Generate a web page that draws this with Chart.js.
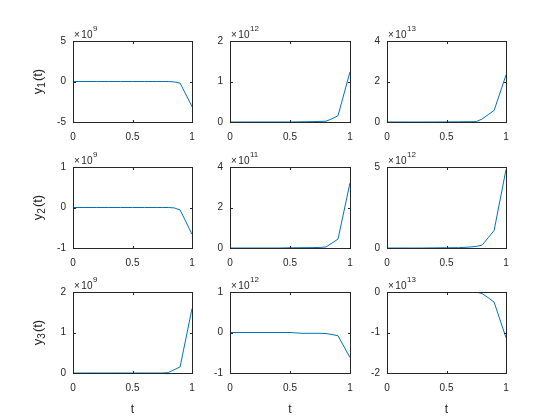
<!DOCTYPE html>
<html>
<head>
<meta charset="utf-8">
<script src="https://cdn.jsdelivr.net/npm/chart.js@4.4.1/dist/chart.umd.min.js"></script>
<style>
  html, body { margin: 0; background: #fff; }
  #fig { position: relative; width: 560px; height: 420px; }
  #fig canvas { position: absolute; left: 0; top: 0; }
</style>
</head>
<body>
<div id="fig"></div>
<script>
// 3x3 subplot grid (MATLAB look): y_i(t) per row, one case per column.
// values are stored scaled by the ×10^n factor shown above each panel.
const T = [0, 0.1, 0.2, 0.3, 0.4, 0.5, 0.6, 0.7, 0.75, 0.8, 0.85, 0.9, 1];

const Y1A = [0, 0, 0, 0, 0, 0, 0, 0, 0, 0, -0.05, -0.2, -3.1];
const Y1B = [0, 0, 0, 0, 0, 0, 0.005, 0.01, 0.015, 0.02, 0.08, 0.155, 1.24];
const Y1C = [0, 0, 0, 0, 0, 0.005, 0.01, 0.015, 0.02, 0.15, 0.36, 0.57, 2.32];
const Y2A = [0, 0, 0, 0, 0, 0, 0, 0, 0, 0, -0.01, -0.06, -0.66];
const Y2B = [0, 0, 0, 0, 0, 0.01, 0.015, 0.02, 0.03, 0.05, 0.245, 0.44, 3.22];
const Y2C = [0, 0, 0, 0, 0.01, 0.015, 0.02, 0.06, 0.1, 0.18, 0.63, 1.08, 4.84];
const Y3A = [0, 0, 0, 0, 0, 0, 0, 0, 0, 0.01, 0.08, 0.15, 1.59];
const Y3B = [0, 0, 0, 0, 0, 0, -0.02, -0.02, -0.02, -0.025, -0.05, -0.08, -0.62];
const Y3C = [0, 0, 0, 0, 0, 0, 0, 0, 0, -0.04, -0.14, -0.25, -1.13];

const SERIES = [[Y1A, Y1B, Y1C], [Y2A, Y2B, Y2C], [Y3A, Y3B, Y3C]];
const EXPONENTS = [[9, 12, 13], [9, 11, 12], [9, 12, 13]];
const Y_MIN  = [[-5, 0, 0], [-1, 0, 0], [0, -1, -2]];
const Y_MAX  = [[5, 2, 4], [1, 4, 5], [2, 1, 0]];
const Y_STEP = [[5, 1, 2], [1, 2, 5], [1, 1, 1]];
const X_TICKS = [0, 0.5, 1];
const ROW_SUBSCRIPTS = ["1", "2", "3"];
const X_LABEL = "t";

// subplot boxes in figure pixels
const COL_L = [73, 230, 387], COL_R = [192, 350, 506];
const ROW_T = [41, 167, 292], ROW_B = [122, 248, 373];
const YW = 30, XH = 25;

const INK = "#262626";
const BLUE = "#0072bd";
const FAMILY = "'Liberation Sans', Arial, sans-serif";

Chart.defaults.font.family = FAMILY;
Chart.defaults.font.size = 10;
Chart.defaults.color = INK;

// box, inward ticks on all four sides, ×10^n factor, axis labels
const matlabAxes = {
  id: "matlabAxes",
  afterDraw(chart, args, o) {
    const ctx = chart.ctx, a = chart.chartArea;
    const sx = chart.scales.x, sy = chart.scales.y;
    ctx.save();
    ctx.strokeStyle = INK;
    ctx.lineWidth = 1;
    ctx.strokeRect(a.left + 0.5, a.top + 0.5, a.right - a.left, a.bottom - a.top);
    ctx.beginPath();
    for (const t of sx.ticks) {
      const px = Math.round(sx.getPixelForValue(t.value)) + 0.5;
      ctx.moveTo(px, a.bottom); ctx.lineTo(px, a.bottom - 2);
      ctx.moveTo(px, a.top + 1); ctx.lineTo(px, a.top + 3);
    }
    for (const t of sy.ticks) {
      const py = Math.round(sy.getPixelForValue(t.value)) + 0.5;
      ctx.moveTo(a.left + 1, py); ctx.lineTo(a.left + 3, py);
      ctx.moveTo(a.right, py); ctx.lineTo(a.right - 2, py);
    }
    ctx.stroke();

    // ×10^n above the top-left corner
    ctx.fillStyle = INK;
    ctx.textBaseline = "alphabetic";
    ctx.textAlign = "left";
    ctx.font = "10px " + FAMILY;
    const bx = a.left + 1, by = a.top - 3.5;
    ctx.fillText("\u00d7", bx, by);
    const wx = ctx.measureText("\u00d7").width + 1.5;
    ctx.fillText("10", bx + wx, by);
    const w10 = ctx.measureText("10").width;
    ctx.font = "8px " + FAMILY;
    ctx.fillText(String(o.exp), bx + wx + w10 + 0.5, by - 6.5);

    if (o.sub) {
      ctx.save();
      ctx.translate(37, (a.top + a.bottom) / 2);
      ctx.rotate(-Math.PI / 2);
      ctx.font = "13px " + FAMILY;
      const w1 = ctx.measureText("y").width, w3 = ctx.measureText("(t)").width;
      ctx.font = "10px " + FAMILY;
      const w2 = ctx.measureText(o.sub).width;
      let x = -(w1 + w2 + w3 + 1) / 2;
      ctx.font = "13px " + FAMILY;
      ctx.fillText("y", x, 4.5); x += w1;
      ctx.font = "10px " + FAMILY;
      ctx.fillText(o.sub, x, 8); x += w2 + 1;
      ctx.font = "13px " + FAMILY;
      ctx.fillText("(t)", x, 4.5);
      ctx.restore();
    }
    if (o.xlabel) {
      ctx.font = "12px " + FAMILY;
      ctx.textAlign = "center";
      ctx.fillText(o.xlabel, (a.left + a.right) / 2, 412.5);
    }
    ctx.restore();
  },
};

const fig = document.getElementById("fig");
for (let r = 0; r < 3; r++) {
  for (let c = 0; c < 3; c++) {
    const canvas = document.createElement("canvas");
    canvas.width = 560; canvas.height = 420;
    fig.appendChild(canvas);
    const vals = SERIES[r][c];
    new Chart(canvas, {
      type: "line",
      data: {
        datasets: [{
          data: T.map((t, i) => ({ x: t, y: vals[i] })),
          borderColor: BLUE,
          borderWidth: 1,
          pointRadius: 0,
          tension: 0,
          fill: false,
        }],
      },
      options: {
        responsive: false,
        animation: false,
        events: [],
        layout: {
          padding: {
            left: COL_L[c] - YW,
            top: ROW_T[r],
            right: 560 - COL_R[c],
            bottom: 420 - ROW_B[r] - XH,
          },
        },
        plugins: {
          legend: { display: false },
          tooltip: { enabled: false },
          matlabAxes: {
            exp: EXPONENTS[r][c],
            sub: c === 0 ? ROW_SUBSCRIPTS[r] : null,
            xlabel: r === 2 ? X_LABEL : null,
          },
        },
        scales: {
          x: {
            type: "linear",
            min: 0, max: 1,
            afterBuildTicks: s => { s.ticks = X_TICKS.map(v => ({ value: v })); },
            afterFit: s => { s.height = XH; },
            grid: { display: false, drawTicks: false },
            border: { display: false },
            ticks: { padding: 9, maxRotation: 0, color: INK, callback: v => String(v) },
          },
          y: {
            type: "linear",
            min: Y_MIN[r][c], max: Y_MAX[r][c],
            afterFit: s => { s.width = YW; },
            grid: { display: false, drawTicks: false },
            border: { display: false },
            ticks: { stepSize: Y_STEP[r][c], padding: 7, color: INK, callback: v => String(v) },
          },
        },
      },
      plugins: [matlabAxes],
    });
  }
}
</script>
</body>
</html>
